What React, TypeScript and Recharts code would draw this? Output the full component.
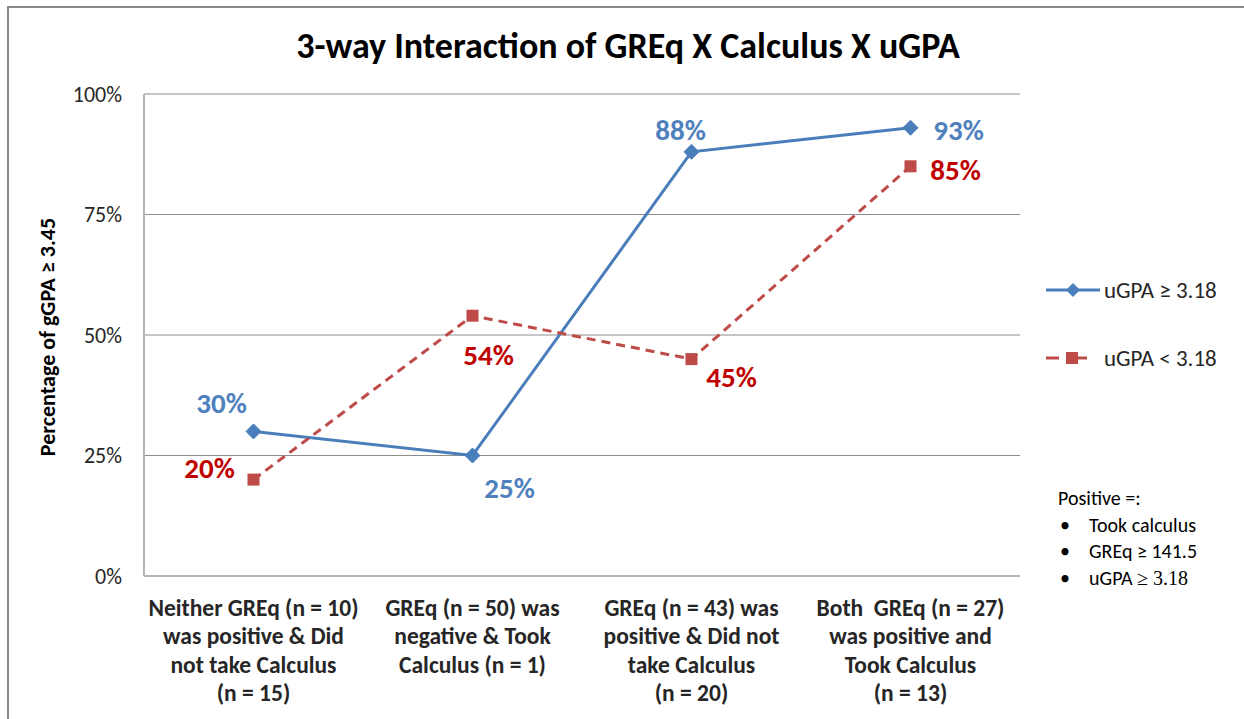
import React from 'react'
import { LineChart, Line, XAxis, YAxis, CartesianGrid, Legend, LabelList } from 'recharts'

// category tick labels, one array of lines per category
const categoryLines = [
  ['Neither GREq (n = 10)', 'was positive & Did', 'not take Calculus', '(n = 15)'],
  ['GREq (n = 50) was', 'negative & Took', 'Calculus (n = 1)'],
  ['GREq (n = 43) was', 'positive & Did not', 'take Calculus', '(n = 20)'],
  ['Both  GREq (n = 27)', 'was positive and', 'Took Calculus', '(n = 13)'],
]
const highGpa = [30, 25, 88, 93]
const lowGpa = [20, 54, 45, 85]
const yTicks = [0, 25, 50, 75, 100]
const seriesNames = ['uGPA ≥ 3.18', 'uGPA < 3.18']
const noteLines = ['Took calculus', 'GREq ≥ 141.5']

// label offsets from the marker (dx, dy)
const highLabelPos = [[-32, -28], [37, 32], [-11, -22], [48, 2]]
const lowLabelPos = [[-44, -12], [16, 39], [40, 18], [45, 4]]

const data = categoryLines.map((lines, i) => ({
  name: lines.join(' '),
  high: highGpa[i],
  low: lowGpa[i],
}))

const FONT = 'Carlito, Lato, sans-serif'
const BLUE = '#4a7ebb'
const RED = '#be4b48'
const LEGEND_W = 190

const Diamond = (props: any) => {
  const { cx, cy } = props
  if (cx == null || cy == null) return null
  const r = 7.5
  return <polygon points={`${cx},${cy - r} ${cx + r},${cy} ${cx},${cy + r} ${cx - r},${cy}`} fill={BLUE} stroke={BLUE} />
}

const Square = (props: any) => {
  const { cx, cy } = props
  if (cx == null || cy == null) return null
  return <rect x={cx - 6} y={cy - 6} width={12} height={12} fill={RED} />
}

const makeLabel = (pos: number[][], color: string) => (props: any) => {
  const { x, y, value, index } = props
  const [dx, dy] = pos[index]
  return (
    <text x={x + dx} y={y + dy} textAnchor="middle" dominantBaseline="central" fill={color}
      fontFamily={FONT} fontWeight="bold" fontSize={29}>
      {value}%
    </text>
  )
}

const CategoryTick = (props: any) => {
  const { x, y, payload } = props
  const lines = categoryLines[payload.index] || []
  return (
    <text x={x} y={y} textAnchor="middle" fill="#262626" fontFamily={FONT} fontWeight="bold" fontSize={23.5}>
      {lines.map((l, i) => (
        <tspan key={i} x={x} dy={i === 0 ? 32 : 28.4} style={{ whiteSpace: 'pre' }}>{l}</tspan>
      ))}
    </text>
  )
}

const LegendContent = () => (
  <div style={{ fontFamily: FONT, fontSize: 23, color: '#262626' }}>
    <div style={{ display: 'flex', alignItems: 'center', height: 24 }}>
      <svg width={58} height={20} style={{ flex: 'none' }}>
        <line x1={0} y1={10} x2={54} y2={10} stroke={BLUE} strokeWidth={3} />
        <polygon points="27,3 34,10 27,17 20,10" fill={BLUE} />
      </svg>
      <span style={{ whiteSpace: 'nowrap' }}>{seriesNames[0]}</span>
    </div>
    <div style={{ display: 'flex', alignItems: 'center', height: 24, marginTop: 44 }}>
      <svg width={58} height={20} style={{ flex: 'none' }}>
        <line x1={0} y1={10} x2={13} y2={10} stroke={RED} strokeWidth={3} />
        <rect x={20} y={4} width={12} height={12} fill={RED} />
        <line x1={31} y1={10} x2={41} y2={10} stroke={RED} strokeWidth={3} />
      </svg>
      <span style={{ whiteSpace: 'nowrap' }}>{seriesNames[1]}</span>
    </div>
  </div>
)

export default function App() {
  return (
    <div style={{ position: 'absolute', left: 0, top: 0, width: 1244, height: 719, overflow: 'hidden', background: '#fff' }}>
      <div style={{ position: 'absolute', left: 7, top: 6, width: 1300, height: 800, borderLeft: '2px solid #898989', borderTop: '2px solid #898989' }} />
      <div style={{ position: 'absolute', left: 0, top: 24, width: 1256, textAlign: 'center', fontFamily: FONT, fontWeight: 'bold', fontSize: 36, color: '#000' }}>
        3-way Interaction of GREq X Calculus X uGPA
      </div>
      <div style={{ position: 'absolute', left: 0, top: 0 }}>
        <LineChart width={1244} height={719} data={data} margin={{ top: 94, right: 224 - LEGEND_W, bottom: 113, left: 84 }}>
          <CartesianGrid vertical={false} stroke="#8c8c8c" strokeWidth={1} />
          <XAxis dataKey="name" scale="band" tick={<CategoryTick />} tickLine={false} axisLine={{ stroke: '#b5b5b5', strokeWidth: 2 }} interval={0} />
          <YAxis
            type="number"
            domain={[0, 100]}
            ticks={yTicks}
            width={60}
            tickLine={false}
            axisLine={{ stroke: '#b5b5b5', strokeWidth: 2 }}
            tickFormatter={(v) => `${v}%`}
            tick={{ fontFamily: FONT, fontSize: 22, fill: '#262626' }}
            tickMargin={16}
            label={() => (
              <text x={47} y={337} transform="rotate(-90 47 337)" textAnchor="middle" dominantBaseline="central"
                fontFamily={FONT} fontWeight="bold" fontSize={22} fill="#000">
                Percentage of gGPA ≥ 3.45
              </text>
            )}
          />
          <Legend content={<LegendContent />} layout="vertical" verticalAlign="top" align="right"
            wrapperStyle={{ top: 278, left: 1046, width: LEGEND_W }} />
          <Line dataKey="high" name={seriesNames[0]} stroke={BLUE} strokeWidth={3} dot={<Diamond />} activeDot={false} isAnimationActive={false}>
            <LabelList dataKey="high" content={makeLabel(highLabelPos, '#4f81bd')} />
          </Line>
          <Line dataKey="low" name={seriesNames[1]} stroke={RED} strokeWidth={3} strokeDasharray="9 6" dot={<Square />} activeDot={false} isAnimationActive={false}>
            <LabelList dataKey="low" content={makeLabel(lowLabelPos, '#c00000')} />
          </Line>
        </LineChart>
      </div>
      <div style={{ position: 'absolute', left: 1058, top: 485, fontFamily: FONT, fontSize: 20, color: '#000', lineHeight: '26.5px', whiteSpace: 'nowrap' }}>
        <div>Positive =:</div>
        {noteLines.map((t) => (
          <div key={t} style={{ display: 'flex' }}>
            <span style={{ width: 29, paddingLeft: 2 }}>•</span>
            <span>{t}</span>
          </div>
        ))}
        <div style={{ display: 'flex' }}>
          <span style={{ width: 29, paddingLeft: 2 }}>•</span>
          <span>uGPA <span style={{ fontFamily: '"Liberation Serif", serif' }}>≥ 3.18</span></span>
        </div>
      </div>
    </div>
  )
}
